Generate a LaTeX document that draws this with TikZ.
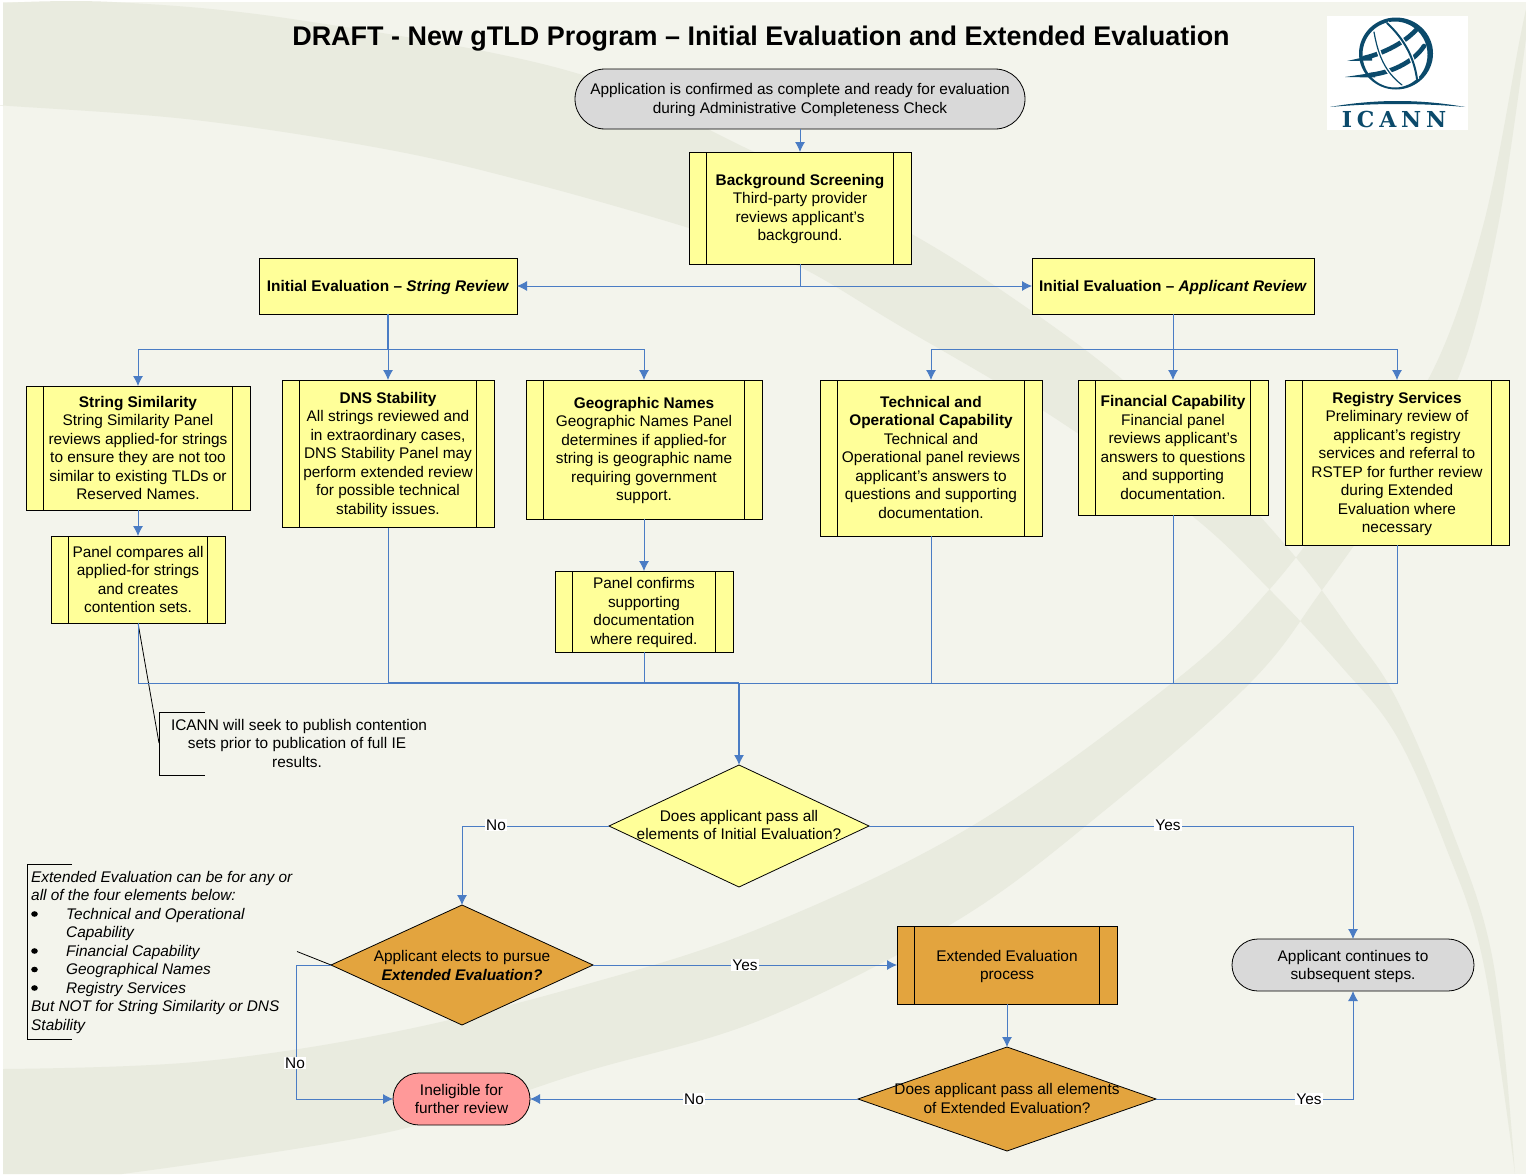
\documentclass[tikz,border=0pt]{standalone}
\usepackage{fontspec}
\setmainfont{Liberation Sans}
\newfontfamily\logofont[LetterSpace=22]{DejaVu Serif}
\usetikzlibrary{arrows.meta,shapes.geometric,shapes.misc}
\definecolor{pagebg}{HTML}{F3F4EC}
\definecolor{bandc}{HTML}{E9EBDF}
\definecolor{yel}{HTML}{FFFF99}
\definecolor{org}{HTML}{E3A43E}
\definecolor{gry}{HTML}{D9D9D9}
\definecolor{pnk}{HTML}{FF9999}
\definecolor{conc}{HTML}{4A7CC4}
\definecolor{logoc}{HTML}{0B4A6B}
\tikzset{
  txt/.style={font=\fontsize{15.4}{18.5}\selectfont},
  proc/.style={draw=black,line width=.8pt,fill=#1,rectangle,inner sep=0pt,outer sep=0pt,align=center,txt,
    path picture={
      \draw[line width=.8pt] ([xshift=17.5pt]path picture bounding box.north west) -- ([xshift=17.5pt]path picture bounding box.south west);
      \draw[line width=.8pt] ([xshift=-17.5pt]path picture bounding box.north east) -- ([xshift=-17.5pt]path picture bounding box.south east);}},
  plainbox/.style={draw=black,line width=.8pt,fill=yel,rectangle,inner sep=0pt,outer sep=0pt,align=center,txt},
  term/.style={draw=black,line width=.8pt,fill=#1,rounded rectangle,inner sep=0pt,outer sep=0pt,align=center,txt},
  dia/.style={draw=black,line width=.8pt,fill=#1,diamond,inner sep=0pt,outer sep=0pt},
  dtext/.style={align=center,txt,inner sep=0pt},
  conn/.style={draw=conc,line width=.8pt},
  heavy/.style={conn,line width=1.3pt},
  arr/.style={conn,-{Latex[length=10pt,width=10pt]}},
  lbl/.style={fill=white,inner sep=1pt,txt},
  callout/.style={draw=black,line width=.8pt},
  band/.style={fill=bandc,even odd rule},
  logo/.style={draw=logoc,line cap=round},
  bulletdot/.style={fill=black}
}
\newcommand\Dn[1]{\rule{0pt}{\dimexpr 11.2pt+#1pt*2\relax}}
\newcommand\procbox[7]{\node[proc=#6,minimum width={(#4-#2)*1pt},minimum height={(#5-#3)*1pt}] (#1) at ({(#2+#4)/2},{(#3+#5)/2}) {#7};}
\newcommand\plbox[6]{\node[plainbox,minimum width={(#4-#2)*1pt},minimum height={(#5-#3)*1pt}] (#1) at ({(#2+#4)/2},{(#3+#5)/2}) {#6};}
\newcommand\termbox[7]{\node[term=#6,minimum width={(#4-#2)*1pt},minimum height={(#5-#3)*1pt}] (#1) at ({(#2+#4)/2},{(#3+#5)/2}) {#7};}
\newcommand\diabox[8]{\node[dia=#6,minimum width={(#4-#2)*1pt},minimum height={(#5-#3)*1pt}] (#1) at ({(#2+#4)/2},{(#3+#5)/2}) {};
  \node[dtext] (#1t) at ({(#2+#4)/2},{(#3+#5)/2+#7}) {#8};}
\begin{document}
\begin{tikzpicture}[x=1pt,y=-1pt]
\useasboundingbox (0,0) rectangle (1526,1175);
\fill[white] (0,0) rectangle (1526,1175);
\fill[pagebg] (3,2) rectangle (1526,1174);
% background swooshes
\fill[band]
  plot[smooth,tension=.6] coordinates {(3,3) (112,2) (292,19) (569,71) (750,150) (910,233) (1020,303) (1123,380) (1215,468) (1298,560) (1350,630) (1396,698) (1450,825) (1493,961) (1515,1174)}
  -- plot[smooth,tension=.6] coordinates {(1515,1174) (1483,961) (1445,845) (1396,735) (1340,665) (1272,592) (1191,515) (1050,415) (900,326) (792,263) (689,228) (535,184) (390,150) (195,120) (10,106) (3,106)} -- cycle
  plot[smooth,tension=.6] coordinates {(3,1069) (195,1062) (389,1033) (584,985) (763,927) (972,826) (1177,679) (1269,590) (1350,485) (1430,376) (1483,226) (1520,38) (1526,10)}
  -- plot[smooth,tension=.6] coordinates {(1526,38) (1498,226) (1459,376) (1395,485) (1322,590) (1250,683) (1104,811) (958,920) (763,1019) (584,1072) (389,1132) (122,1174)} -- (3,1174) -- cycle;
% title
\node[font=\fontsize{26.95}{32}\selectfont\bfseries,inner sep=0pt] (title) at (761,39) {DRAFT - New gTLD Program -- Initial Evaluation and Extended Evaluation};
% logo
\fill[white] (1327,16) rectangle (1468,129.5);
\fill[logoc,even odd rule] (1396,53.5) circle[x radius=37pt,y radius=36pt]
   (1395,54.5) circle[x radius=32.5pt,y radius=33pt];
\draw[logo,line width=4.6pt] (1364,58) .. controls (1385,53) and (1405,42) .. (1416,30);
\draw[logo,line width=4.6pt] (1370,75) .. controls (1395,72) and (1415,60) .. (1424,46);
\fill[logoc] (1347,61) -- (1372,55.5) -- (1372,60.5) -- cycle;
\fill[logoc] (1345,77) -- (1375,72.5) -- (1375,77.5) -- cycle;
\draw[white,line width=4pt] (1374,32) .. controls (1378,55) and (1385,72) .. (1402,85);
\draw[white,line width=4.4pt] (1387,23) .. controls (1405,40) and (1414,58) .. (1417,79);
\draw[logo,line width=1.2pt] (1374,32) .. controls (1378,55) and (1385,72) .. (1402,85);
\draw[logo,line width=2pt] (1387,23) .. controls (1405,40) and (1414,58) .. (1417,79);
\fill[logoc] (1330,107) .. controls (1375,99) and (1420,99) .. (1465,107) .. controls (1420,103) and (1375,103) .. cycle;
\node[font=\logofont\bfseries\fontsize{22}{24}\selectfont,text=logoc,inner sep=0pt] (icann) at (1394,119.5) {ICANN};
% nodes
\termbox{start}{575}{69}{1025}{129}{gry}{\Dn{1}Application is confirmed as complete and ready for evaluation\\during Administrative Completeness Check}
\procbox{bg}{689}{152}{911}{264}{yel}{\Dn{1}\textbf{Background Screening}\\Third-party provider\\reviews applicant’s\\background.}
\plbox{inis}{259}{258}{517}{314}{\Dn{1}\textbf{Initial Evaluation -- \textit{String Review}}}
\plbox{inia}{1032}{258}{1314}{314}{\Dn{1}\textbf{Initial Evaluation -- \textit{Applicant Review}}}
\procbox{ss}{26}{386}{250}{510}{yel}{\textbf{String Similarity}\\String Similarity Panel\\reviews applied-for strings\\to ensure they are not too\\similar to existing TLDs or\\Reserved Names.}
\procbox{pc}{51}{536}{225}{623}{yel}{Panel compares all\\applied-for strings\\and creates\\contention sets.}
\procbox{dns}{282}{380}{494}{527.5}{yel}{\Dn{1}\textbf{DNS Stability}\\All strings reviewed and\\in extraordinary cases,\\DNS Stability Panel may\\perform extended review\\for possible technical\\stability issues.}
\procbox{geo}{526}{380}{762}{519}{yel}{\Dn{1}\textbf{Geographic Names}\\Geographic Names Panel\\determines if applied-for\\string is geographic name\\requiring government\\support.}
\procbox{pcb}{555}{571}{733}{652}{yel}{\Dn{1}Panel confirms\\supporting\\documentation\\where required.}
\procbox{tech}{820}{380}{1042}{536}{yel}{\textbf{Technical and}\\\textbf{Operational Capability}\\Technical and\\Operational panel reviews\\applicant’s answers to\\questions and supporting\\documentation.\rule[-2pt]{0pt}{0pt}}
\procbox{fin}{1078}{380}{1268}{515}{yel}{\textbf{Financial Capability}\\Financial panel\\reviews applicant’s\\answers to questions\\and supporting\\documentation.}
\procbox{reg}{1285}{380}{1509}{545}{yel}{\Dn{1.5}\textbf{Registry Services}\\Preliminary review of\\applicant’s registry\\services and referral to\\RSTEP for further review\\during Extended\\Evaluation where\\necessary}
\diabox{da}{609}{765}{869}{887}{yel}{-1}{Does applicant pass all\\elements of Initial Evaluation?}
\diabox{db}{331}{905}{593}{1025}{org}{.5}{Applicant elects to pursue\\\textbf{\textit{Extended Evaluation?}}}
\procbox{ext}{897}{926}{1117}{1004}{org}{\Dn{1.5}Extended Evaluation\\process}
\diabox{dc}{858}{1047}{1156}{1151}{org}{-.5}{Does applicant pass all elements\\of Extended Evaluation?}
\termbox{cont}{1232}{939}{1474}{991}{gry}{\Dn{1.5}Applicant continues to\\subsequent steps.}
\termbox{inel}{393}{1073}{530}{1125}{pnk}{Ineligible for\\further review}
% annotations
\node[txt,align=center,inner sep=0pt] (note) at (297,743) {\hspace*{4pt}ICANN will seek to publish contention\\sets prior to publication of full IE\\results.};
\node[txt,align=left,inner sep=0pt,anchor=north west,font=\fontsize{15.4}{18.5}\selectfont\itshape] (ee) at (31,871) {Extended Evaluation can be for any or\\all of the four elements below:\\\hspace*{35pt}Technical and Operational\\\hspace*{35pt}Capability\\\hspace*{35pt}Financial Capability\\\hspace*{35pt}Geographical Names\\\hspace*{35pt}Registry Services\\But NOT for String Similarity or DNS\\Stability};
\foreach \yy in {914,951,969.5,988} {\fill[bulletdot] (34.5,\yy) circle[x radius=3.3pt,y radius=2.8pt];}
\coordinate (notea) at (159,743);
\coordinate (eea) at (297,951.5);
\draw[callout] (205,712.3) -- (159,712.3) -- (159,775) -- (205,775);
\draw[callout] (pc.south) -- (notea);
\draw[callout] (72,864) -- (27,864) -- (27,1039) -- (72,1039);
\draw[callout] (db.west) -- (eea);
% connectors
\coordinate (bsplit) at (800,286);
\coordinate (sb) at (388,349);
\coordinate (ab) at (1173,349);
\coordinate (bus) at (739,683);
\coordinate (nleft) at (296,965);
\draw[arr] (start.south -| bg.north) -- (bg.north);
\draw[conn] (bg.south) -- (bsplit);
\draw[arr] (bsplit) -- (inis.east);
\draw[arr] (bsplit) -- (inia.west);
\draw[arr] (inis.south) -- (dns.north);
\draw[heavy] (inis.south) -- (sb);
\draw[arr] (sb) -| (ss.north);
\draw[arr] (sb) -| (geo.north);
\draw[arr] (inia.south) -- (fin.north);
\draw[arr] (ab) -| (tech.north);
\draw[arr] (ab) -| (reg.north);
\draw[arr] (ss.south) -- (pc.north);
\draw[arr] (geo.south) -- (pcb.north);
\draw[conn] (pc.south) |- (bus);
\draw[conn] (reg.south) |- (bus);
\foreach \n in {dns,pcb,tech,fin} {\draw[conn] (\n.south) -- (\n.south |- bus);}
\draw[heavy] (dns.south |- bus) -- (bus);
\draw[arr,line width=1.3pt] (bus) -- (da.north);
\draw[arr] (da.west) -| (db.north);
\draw[arr] (da.east) -| (cont.north);
\draw[arr] (db.east) -- (ext.west);
\draw[arr] (db.west) -- (nleft) |- (inel.west);
\draw[arr] (ext.south) -- (dc.north);
\draw[arr] (dc.west) -- (inel.east);
\draw[arr] (dc.east) -| (cont.south);
\node[lbl] (l1) at (496,825) {No};
\node[lbl] (l2) at (1168,825) {Yes};
\node[lbl] (l3) at (745,965) {Yes};
\node[lbl] (l4) at (295,1063) {No};
\node[lbl] (l5) at (694,1099) {No};
\node[lbl] (l6) at (1309,1099) {Yes};
\end{tikzpicture}
\end{document}
